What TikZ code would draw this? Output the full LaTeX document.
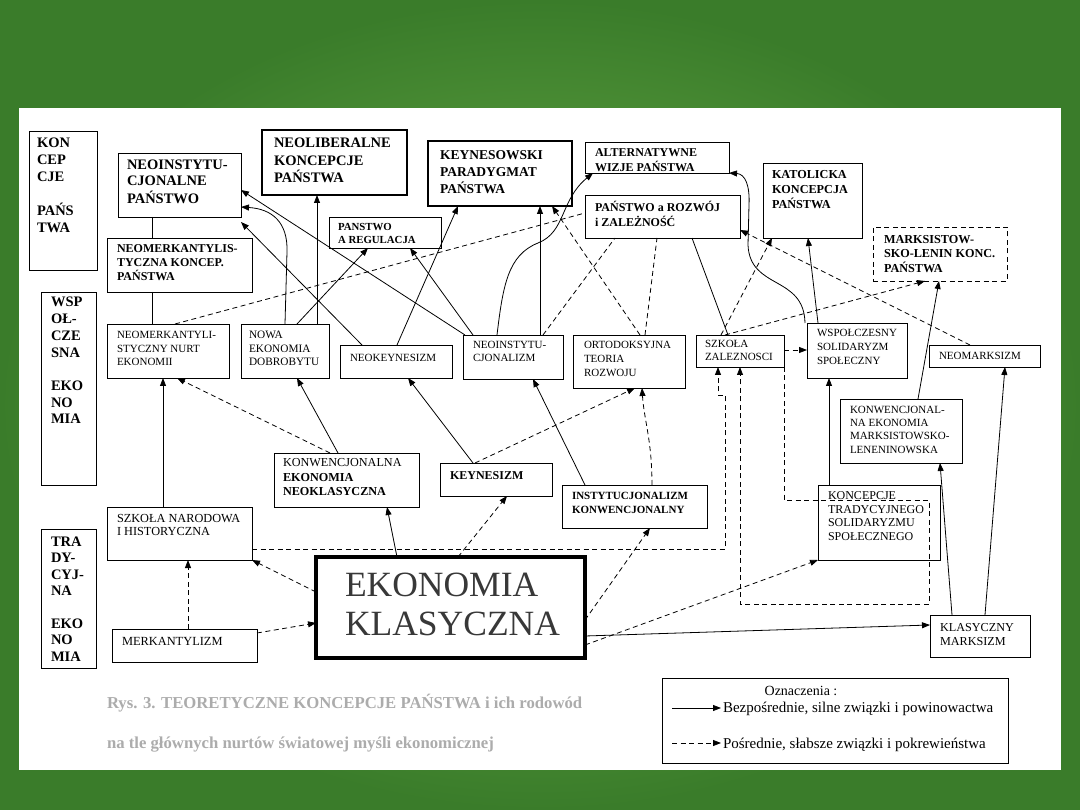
\documentclass[tikz,border=0pt]{standalone}
\usepackage{fontspec}
\setmainfont{Liberation Serif}
\usetikzlibrary{arrows.meta,fit}
\definecolor{bgin}{RGB}{112,180,76}
\definecolor{bgout}{RGB}{58,124,42}
\definecolor{capgray}{RGB}{172,172,172}
\newcommand\fB[2]{\fontsize{#1}{#2}\selectfont\bfseries}
\newcommand\fR[2]{\fontsize{#1}{#2}\selectfont}
\newcommand\tx[5]{\node[txt] (#1) at (#2,#3) {#4\begin{tabular}[t]{@{}l@{}}#5\end{tabular}};}
\newcommand\mkbox[6]{\node[#6, fit={(#2,#3)(#4,#5)}] (#1) {};}
\tikzset{
  bx/.style={draw, line width=0.9pt, inner sep=0pt, outer sep=0pt},
  bxthick/.style={bx, line width=2.4pt},
  bxheavy/.style={bx, line width=4pt},
  bxdash/.style={bx, dash pattern=on 5pt off 3.5pt},
  txt/.style={anchor=base west, inner sep=0pt, outer sep=0pt},
  sl/.style={line width=0.8pt},
  dl/.style={sl, dash pattern=on 5pt off 3.5pt},
  sa/.style={sl, -{Triangle[length=8pt,width=6pt]}},
  da/.style={sa, dash pattern=on 5pt off 3.5pt},
}
\begin{document}
\begin{tikzpicture}[x=1pt,y=-1pt]
\useasboundingbox (0,0) rectangle (1080,810);
\shade[inner color=bgin, outer color=bgout] (0,0) rectangle (1080,810);
\fill[white] (19,108) rectangle (1061,770);

% ---- left column labels
\mkbox{konc}{29}{131}{97}{270}{bx}
\tx{tkonc}{37}{148}{\fB{14.5}{16.7}}{KON\\CEP\\CJE\\ \\PAŃS\\TWA}
\mkbox{wsp}{41}{292}{96}{485}{bx}
\tx{twsp}{51}{307}{\fB{14.5}{16.7}}{WSP\\OŁ-\\CZE\\SNA\\ \\EKO\\NO\\MIA}
\mkbox{trad}{41}{529}{96}{668}{bx}
\tx{ttrad}{51}{546}{\fB{14.5}{16.5}}{TRA\\DY-\\CYJ-\\NA\\ \\EKO\\NO\\MIA}

% ---- top row: concepts of the state
\mkbox{nip}{118}{153}{241}{217}{bx}
\tx{tnip}{127}{170}{\fB{14.5}{16}}{NEOINSTYTU-\\CJONALNE\\PAŃSTWO}
\mkbox{nmk}{107}{238}{252}{292}{bx}
\tx{tnmk}{117}{253}{\fB{12}{13.5}}{NEOMERKANTYLIS-\\TYCZNA KONCEP.\\PAŃSTWA}
\mkbox{nlib}{262}{130}{407}{195}{bxthick}
\tx{tnlib}{274}{148}{\fB{14.5}{17.3}}{NEOLIBERALNE\\KONCEPCJE\\PAŃSTWA}
\mkbox{key}{428}{141}{572}{206}{bxthick}
\tx{tkey}{440}{160}{\fB{13.5}{16.5}}{KEYNESOWSKI\\PARADYGMAT\\PAŃSTWA}
\mkbox{reg}{329}{217}{441}{248}{bx}
\tx{treg}{338}{231}{\fB{10.8}{12.5}}{PANSTWO\\A REGULACJA}
\mkbox{alt}{585}{142}{729}{173}{bx}
\tx{talt}{595}{157}{\fB{12}{13.5}}{ALTERNATYWNE\\WIZJE PAŃSTWA}
\mkbox{roz}{585}{195}{740}{238}{bx}
\tx{troz}{595}{212}{\fB{12}{13.5}}{PAŃSTWO a ROZWÓJ\\i ZALEŻNOŚĆ}
\mkbox{kat}{763}{163}{862}{238}{bx}
\tx{tkat}{772}{179}{\fB{12.2}{14.5}}{KATOLICKA\\KONCEPCJA\\PAŃSTWA}
\mkbox{mlen}{873}{227}{1007}{281}{bxdash}
\tx{tmlen}{884}{244}{\fB{12.2}{14}}{MARKSISTOW-\\SKO-LENIN KONC.\\PAŃSTWA}

% ---- middle row: contemporary economics
\mkbox{nmn}{107}{324}{229}{378}{bx}
\tx{tnmn}{117}{339}{\fR{11}{13.5}}{NEOMERKANTYLI-\\STYCZNY NURT\\EKONOMII}
\mkbox{ned}{241}{324}{329}{378}{bx}
\tx{tned}{249}{339}{\fR{11.3}{13.5}}{NOWA\\EKONOMIA\\DOBROBYTU}
\mkbox{nk}{340}{345}{452}{378}{bx}
\tx{tnk}{350}{362}{\fR{11}{13.5}}{NEOKEYNESIZM}
\mkbox{ni}{463}{335}{563}{379}{bx}
\tx{tni}{473}{348.5}{\fR{11}{13.5}}{NEOINSTYTU-\\CJONALIZM}
\mkbox{ort}{573}{335}{685}{388}{bx}
\tx{tort}{584}{349}{\fR{11}{14}}{ORTODOKSYJNA\\TEORIA\\ROZWOJU}
\mkbox{sz}{696}{335}{784}{367}{bx}
\tx{tsz}{705}{348}{\fR{11}{13}}{SZKOŁA\\ZALEZNOSCI}
\mkbox{wss}{807}{323}{907}{378}{bx}
\tx{twss}{817}{337}{\fR{11}{14}}{WSPOŁCZESNY\\SOLIDARYZM\\SPOŁECZNY}
\mkbox{nm}{929}{345}{1040}{367}{bx}
\tx{tnm}{939}{359.5}{\fR{11}{13.5}}{NEOMARKSIZM}
\mkbox{kem}{840}{399}{962}{463}{bx}
\tx{tkem}{850}{413.5}{\fR{11}{13.2}}{KONWENCJONAL-\\NA EKONOMIA\\MARKSISTOWSKO-\\LENENINOWSKA}
\mkbox{ken}{274}{453}{419}{507}{bx}
\tx{tken}{283}{467}{\fR{12.2}{14.5}}{KONWENCJONALNA\\\textbf{EKONOMIA}\\\textbf{NEOKLASYCZNA}}
\mkbox{kz}{440}{463}{552}{496}{bx}
\tx{tkz}{450}{479}{\fB{12}{13.5}}{KEYNESIZM}
\mkbox{ik}{562}{485}{707}{528}{bx}
\tx{tik}{572}{499}{\fB{11}{14}}{INSTYTUCJONALIZM\\KONWENCJONALNY}
\mkbox{kts}{818}{485}{940}{560}{bx}
\tx{tkts}{828}{499}{\fR{12}{14}}{KONCEPCJE\\TRADYCYJNEGO\\SOLIDARYZMU\\SPOŁECZNEGO}

% ---- bottom: traditional economics
\mkbox{snh}{107}{507}{252}{560}{bx}
\tx{tsnh}{117}{522}{\fR{12.3}{13.5}}{SZKOŁA NARODOWA\\I HISTORYCZNA}
\mkbox{ek}{316}{557}{585}{658}{bxheavy}
\tx{tek}{345}{596}{\color{black!78}\fR{35.5}{39}}{EKONOMIA\\KLASYCZNA}
\mkbox{mk}{112}{629}{257}{662}{bx}
\tx{tmk}{122}{645.5}{\fR{12.4}{13.5}}{MERKANTYLIZM}
\mkbox{km}{930}{615}{1030}{657}{bx}
\tx{tkm}{940}{631}{\fR{12.2}{14}}{KLASYCZNY\\MARKSIZM}

% ---- solid connectors
\draw[sl] (nip.south -| 152,0) -- (nmk.north -| 152,0);
\draw[sl] (nmk.south -| 152,0) -- (nmn.north -| 152,0);
\draw[sl] (roz.south -| 692,0) -- (sz.north -| 728,0);
\draw[sa] (snh.north -| 163,0) -- (nmn.south -| 163,0);
\draw[sa] (ken.north -| 338,0) -- (ned.south -| 297,0);
\draw[sa] (ek.north -| 397,0) -- (ken.south -| 387,0);
\draw[sa] (kz.north -| 473,0) -- (nk.south -| 408,0);
\draw[sa] (ik.north -| 585,0) -- (ni.south -| 533,0);
\draw[sa] (kts.north -| 829,0) -- (wss.south -| 829,0);
\draw[sa] (km.north -| 952,0) -- (kem.south -| 940,0);
\draw[sa] (km.north -| 985,0) -- (nm.south -| 1005,0);
\draw[sa] (kem.north -| 918,0) -- (mlen.south -| 939,0);
\draw[sa] (wss.north -| 818,0) -- (kat.south -| 808,0);
\draw[sa] (nk.north -| 397,0) -- (key.south -| 458,0);
\draw[sa] (ni.north -| 540,0) -- (key.south -| 540,0);
\draw[sa] (ned.north -| 317,0) -- (nlib.south -| 317,0);
\draw[sa] (ned.north -| 297,0) -- (reg.south -| 368,0);
\draw[sa] (ni.north -| 473,0) -- (reg.south -| 410,0);
\draw[sa] (ni.north -| 465,0) -- (nip.east |- 0,190);
\draw[sa] (nk.north -| 362,0) -- (nip.east |- 0,222);
\draw[sa] (ned.north -| 285,0) -- (287,252) .. controls (288,222) and (272,209) .. (nip.east |- 0,207);
\draw[sa] (ni.north -| 497,0) .. controls (503,285) and (508,255) .. (538,243) .. controls (566,232) and (560,200) .. (alt.south -| 593,0);
\draw[sa] (wss.north -| 805,0) .. controls (804,275) and (750,290) .. (748,245) -- (749,205) .. controls (750,185) and (745,174) .. (alt.south east);
\draw[sa] (ek.east |- 0,636) -- (km.west |- 0,625);

% ---- dashed connectors
\draw[da] (mk.north -| 188,0) -- (snh.south -| 188,0);
\draw[da] (mk.east |- 0,633) -- (ek.west |- 0,623);
\draw[da] (ek.west |- 0,592) -- (snh.south east);
\draw[da] (ken.north -| 330,0) -- (nmn.south -| 177,0);
\draw[da] (ek.north -| 458,0) -- (kz.south -| 507,0);
\draw[da] (ek.east |- 0,620) -- (ik.south -| 650,0);
\draw[da] (ek.east |- 0,645) -- (kts.south west);
\draw[da] (kz.north -| 475,0) -- (ort.south -| 635,0);
\draw[da] (ik.north -| 652,0) .. controls (652,440) and (644,420) .. (ort.south -| 642,0);
\draw[da] (sz.east |- 0,350) -- (wss.west |- 0,350);
\draw[da] (sz.north -| 721,0) -- (kat.south -| 772,0);
\draw[da] (sz.north -| 725,0) -- (mlen.south -| 925,0);
\draw[da] (nm.north -| 970,0) -- (roz.east |- 0,230);
\draw[da] (ort.north -| 640,0) -- (key.south -| 552,0);
\draw[dl] (ni.north -| 543,0) -- (roz.south -| 615,0);
\draw[dl] (ort.north -| 645,0) -- (roz.south -| 657,0);
\draw[dl] (nmn.north -| 175,0) -- (roz.west |- 0,213);
\draw[da] (snh.east |- 0,549) -| (725,395) -- (718,395) -- (sz.south -| 718,0);
\draw[da] (sz.south east) -- (784,500) -- (929,500) -- (929,604) -- (740,604) -- (sz.south -| 740,0);

% ---- caption
\node[txt, text=capgray, font=\fB{16.7}{20}] (cap1) at (107,708) {Rys. 3. TEORETYCZNE KONCEPCJE PAŃSTWA i ich rodowód};
\node[txt, text=capgray, font=\fB{16.7}{20}] (cap2) at (107,748) {na tle głównych nurtów światowej myśli ekonomicznej};

% ---- legend
\mkbox{leg}{662}{678}{1008}{763}{bx}
\node[anchor=base, inner sep=0pt, font=\fR{14}{16}] (lgt) at (801,695) {Oznaczenia :};
\coordinate (l1a) at (672,708);
\coordinate (l1b) at (721,708);
\coordinate (l2a) at (672,743);
\coordinate (l2b) at (721,743);
\draw[sa] (l1a) -- (l1b);
\draw[da] (l2a) -- (l2b);
\node[txt, font=\fR{15}{16}] (lg1) at (723,712) {Bezpośrednie, silne związki i powinowactwa};
\node[txt, font=\fR{15}{16}] (lg2) at (723,748) {Pośrednie, słabsze związki i pokrewieństwa};
\end{tikzpicture}
\end{document}
